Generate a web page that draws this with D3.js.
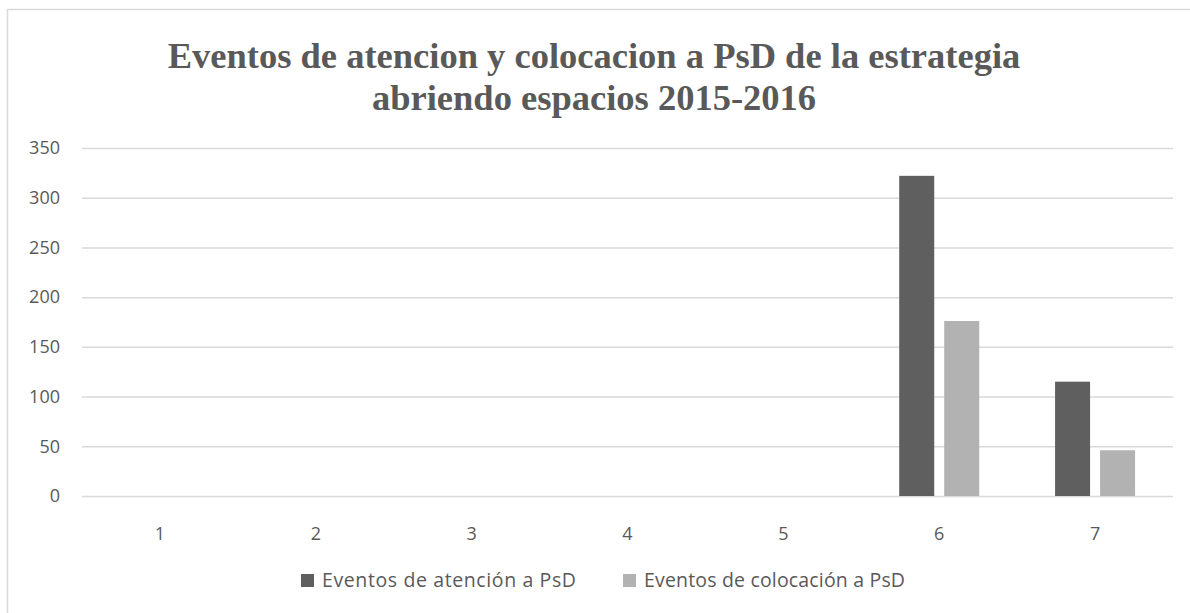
<!DOCTYPE html>
<html>
<head>
<meta charset="utf-8">
<script src="https://cdnjs.cloudflare.com/ajax/libs/d3/7.8.5/d3.min.js"></script>
<style>
  body { margin: 0; background: #fff; }
  svg { display: block; }
</style>
</head>
<body>
<svg id="chart"></svg>
<script>
const width = 1190;
const height = 613;

const categories = ["1", "2", "3", "4", "5", "6", "7"];
const seriesNames = ["Eventos de atención a PsD", "Eventos de colocación a PsD"];
const atencion = [0, 0, 0, 0, 0, 322, 115];
const colocacion = [0, 0, 0, 0, 0, 176, 46];
const yTicks = [0, 50, 100, 150, 200, 250, 300, 350];
const titleLines = ["Eventos de atencion y colocacion a PsD de la estrategia", "abriendo espacios 2015-2016"];

const colors = ["#5f5f5f", "#b2b2b2"];
const textColor = "#595959";
const labelFont = "'Open Sans', Lato, sans-serif";

const margin = { top: 148, right: 17, bottom: 117, left: 82 };
const plotW = width - margin.left - margin.right;
const plotH = height - margin.top - margin.bottom;

const svg = d3.select("#chart").attr("width", width).attr("height", height);

// chart frame
svg.append("rect")
  .attr("x", 7.5).attr("y", 9.5)
  .attr("width", 1200).attr("height", 640)
  .attr("fill", "none")
  .attr("stroke", "#d9d9d9")
  .attr("stroke-width", 1.5);

// title
svg.append("text")
  .attr("text-anchor", "middle")
  .attr("font-family", "'Liberation Serif', 'Times New Roman', serif")
  .attr("font-weight", "bold")
  .attr("font-size", 36.5)
  .attr("fill", textColor)
  .selectAll("tspan")
  .data(titleLines)
  .join("tspan")
  .attr("x", 594)
  .attr("y", (d, i) => 68 + i * 42)
  .text(d => d);

const g = svg.append("g").attr("transform", `translate(${margin.left},${margin.top})`);

const x = d3.scaleBand().domain(categories).range([0, plotW]);
const y = d3.scaleLinear().domain([0, 350]).range([plotH, 0]);

// gridlines + y labels
const yAxis = d3.axisLeft(y).tickValues(yTicks).tickSize(-plotW).tickPadding(22);
g.append("g")
  .call(yAxis)
  .call(s => s.select(".domain").remove())
  .call(s => s.selectAll(".tick line").attr("stroke", "#d9d9d9").attr("stroke-width", 1.5))
  .call(s => s.selectAll(".tick text")
    .attr("fill", textColor)
    .attr("font-family", labelFont)
    .attr("font-size", 18));

// x labels
const xAxis = d3.axisBottom(x).tickSize(0).tickPadding(31);
g.append("g")
  .attr("transform", `translate(0,${plotH})`)
  .call(xAxis)
  .call(s => s.select(".domain").remove())
  .call(s => s.selectAll(".tick text")
    .attr("fill", textColor)
    .attr("font-family", labelFont)
    .attr("font-size", 18));

// bars
const barW = 35;
const gap = 10;
const series = [atencion, colocacion];
series.forEach((vals, si) => {
  g.append("g").selectAll("rect")
    .data(vals)
    .join("rect")
    .attr("x", (d, i) => x(categories[i]) + x.bandwidth() / 2 - (barW + gap / 2) + si * (barW + gap))
    .attr("y", d => y(d))
    .attr("width", barW)
    .attr("height", d => plotH - y(d))
    .attr("fill", colors[si]);
});

// legend
const legendX = [301, 623];
const legendTextW = [254, 261];
const legend = svg.append("g");
seriesNames.forEach((name, i) => {
  legend.append("rect")
    .attr("x", legendX[i]).attr("y", 574)
    .attr("width", 13).attr("height", 13)
    .attr("fill", colors[i]);
  legend.append("text")
    .attr("x", legendX[i] + 21).attr("y", 580)
    .attr("dy", "0.35em")
    .attr("fill", textColor)
    .attr("font-family", labelFont)
    .attr("font-size", 19.5)
    .attr("textLength", legendTextW[i])
    .attr("lengthAdjust", "spacing")
    .text(name);
});
</script>
</body>
</html>
